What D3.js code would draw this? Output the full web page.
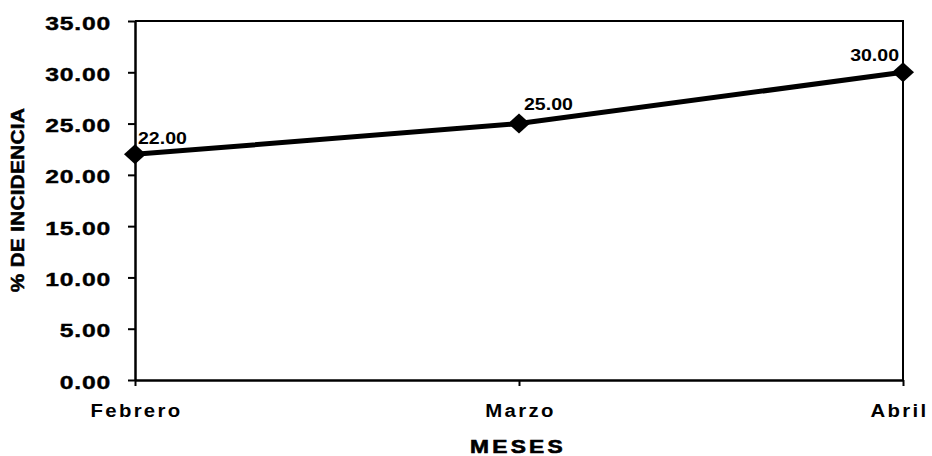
<!DOCTYPE html>
<html>
<head>
<meta charset="utf-8">
<script src="https://cdn.jsdelivr.net/npm/d3@7"></script>
<style>
  body { margin: 0; background: #fff; }
  svg { display: block; }
  text { font-family: "Liberation Sans", Arial, sans-serif; fill: #000; }
</style>
</head>
<body>
<svg id="chart" width="932" height="456"></svg>
<script>
const months = ["Febrero", "Marzo", "Abril"];
const incidence = [22.00, 25.00, 30.00];
const yTicks = [0, 5, 10, 15, 20, 25, 30, 35];
const xTitle = "MESES";
const yTitle = "% DE INCIDENCIA";

const svg = d3.select("#chart");
const mLeft = 135, mRight = 903, mTop = 21, mBottom = 380;

const x = d3.scalePoint().domain(months).range([mLeft, mRight]);
const y = d3.scaleLinear().domain([0, 35]).range([mBottom, mTop]);

// frame (top and right borders)
svg.append("path")
  .attr("d", `M${mLeft},${mTop}H${mRight}V${mBottom}`)
  .attr("fill", "none").attr("stroke", "#000").attr("stroke-width", 2);

// y axis
const yAxis = svg.append("g")
  .attr("transform", `translate(${mLeft},0)`)
  .call(d3.axisLeft(y).tickValues(yTicks).tickFormat(d3.format(".2f")).tickSize(7).tickPadding(18).tickSizeOuter(0));
yAxis.select(".domain").attr("stroke", "#000").attr("stroke-width", 2.5);
yAxis.selectAll(".tick line").attr("stroke", "#000").attr("stroke-width", 2);
yAxis.selectAll(".tick text")
  .attr("x", 0).attr("dy", 0)
  .attr("transform", "translate(-24,8) scale(1.3,1)")
  .style("font-family", '"Liberation Sans", Arial, sans-serif')
  .style("font-size", "19px").style("font-weight", "bold").style("letter-spacing", "0.6px")
  .attr("stroke", "#000").attr("stroke-width", 0.4);

// x axis
const xAxis = svg.append("g")
  .attr("transform", `translate(0,${mBottom})`)
  .call(d3.axisBottom(x).tickSize(6).tickPadding(16).tickSizeOuter(0));
xAxis.select(".domain").attr("stroke", "#000").attr("stroke-width", 2.5);
xAxis.selectAll(".tick line").attr("stroke", "#000").attr("stroke-width", 2);
xAxis.selectAll(".tick text")
  .attr("y", 0).attr("dy", 0)
  .attr("transform", (d, i) => `translate(${i === months.length - 1 ? -4 : 1},37) scale(1.1,1)`)
  .style("font-family", '"Liberation Sans", Arial, sans-serif')
  .style("font-size", "18.5px").style("font-weight", "bold").style("letter-spacing", "2.1px");

// axis titles
svg.append("text")
  .attr("transform", `translate(${(mLeft + mRight) / 2 - 1},453) scale(1.3,1)`)
  .attr("text-anchor", "middle")
  .style("font-size", "17.5px").style("font-weight", "bold").style("letter-spacing", "2.5px")
  .attr("stroke", "#000").attr("stroke-width", 0.6)
  .text(xTitle);

svg.append("text")
  .attr("transform", "translate(24,200) rotate(-90) scale(1.15,1)")
  .attr("text-anchor", "middle")
  .style("font-size", "18px").style("font-weight", "bold").style("letter-spacing", "0.3px")
  .attr("stroke", "#000").attr("stroke-width", 0.5)
  .text(yTitle);

// line
const data = months.map((m, i) => ({ m, v: incidence[i] }));
svg.append("path")
  .datum(data)
  .attr("fill", "none").attr("stroke", "#000").attr("stroke-width", 5)
  .attr("d", d3.line().x(d => x(d.m)).y(d => y(d.v)));

// markers
svg.selectAll(".mk").data(data).enter().append("path")
  .attr("class", "mk")
  .attr("d", d => { const cx = x(d.m), cy = y(d.v); return `M${cx - 11},${cy}L${cx},${cy - 10}L${cx + 11},${cy}L${cx},${cy + 10}Z`; })
  .attr("fill", "#000");

// data labels
const labelPos = [
  { dx: 3, anchor: "start", dy: -10 },
  { dx: 5, anchor: "start", dy: -14 },
  { dx: -4, anchor: "end", dy: -11 }
];
svg.selectAll(".lbl").data(data).enter().append("text")
  .attr("class", "lbl")
  .attr("transform", (d, i) => `translate(${x(d.m) + labelPos[i].dx},${y(d.v) + labelPos[i].dy}) scale(1.15,1)`)
  .attr("text-anchor", (d, i) => labelPos[i].anchor)
  .style("font-size", "17px").style("font-weight", "bold")
  .text(d => d3.format(".2f")(d.v));
</script>
</body>
</html>
